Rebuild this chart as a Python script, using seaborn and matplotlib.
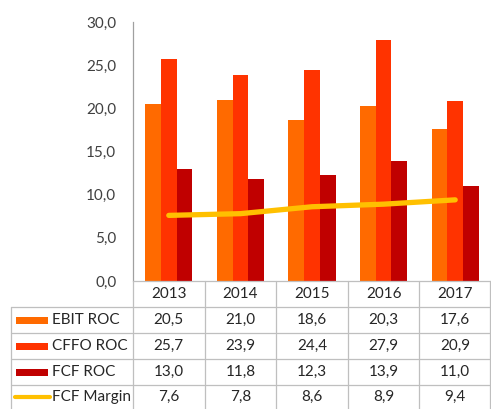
import numpy as np
import pandas as pd
import matplotlib
matplotlib.use("Agg")
import matplotlib.pyplot as plt
from matplotlib.patches import Rectangle
from matplotlib.lines import Line2D
import seaborn as sns

years = ["2013", "2014", "2015", "2016", "2017"]
ebit_roc = [20.5, 21.0, 18.6, 20.3, 17.6]
cffo_roc = [25.7, 23.9, 24.4, 27.9, 20.9]
fcf_roc = [13.0, 11.8, 12.3, 13.9, 11.0]
fcf_margin = [7.6, 7.8, 8.6, 8.9, 9.4]

bar_series = ["EBIT ROC", "CFFO ROC", "FCF ROC"]
line_series = "FCF Margin"
bar_colors = ["#FF6A00", "#FF3300", "#C00000"]
line_color = "#FFC000"
y_ticks = [0, 5, 10, 15, 20, 25, 30]

sns.set_theme(style="white")
plt.rcParams["font.family"] = ["Lato", "DejaVu Sans"]

W, H = 491, 409
fig = plt.figure(figsize=(W / 100, H / 100), dpi=100)

# plot area in pixel coordinates
x0, x1 = 133, 491
y_top, y_zero = 22, 281
ax = fig.add_axes([x0 / W, (H - y_zero) / H, (x1 - x0) / W, (y_zero - y_top) / H])

df = pd.DataFrame({
    "year": np.repeat(years, 3),
    "series": bar_series * len(years),
    "value": np.ravel(np.column_stack([ebit_roc, cffo_roc, fcf_roc])),
})
sns.barplot(data=df, x="year", y="value", hue="series", hue_order=bar_series,
            palette=bar_colors, width=0.66, saturation=1, legend=False,
            linewidth=0, ax=ax)
sns.lineplot(x=np.arange(len(years)), y=fcf_margin, color=line_color,
             linewidth=3.8, ax=ax, solid_capstyle="round")

ax.set_xlim(-0.5, len(years) - 0.5)
ax.set_ylim(0, 30)
ax.set_yticks(y_ticks)
ax.set_yticklabels([f"{t:.1f}".replace(".", ",") for t in y_ticks],
                   fontsize=11, color="#404040")
ax.tick_params(axis="y", length=0, pad=12)
ax.set_xticks([])
ax.set_xlabel("")
ax.set_ylabel("")
for side in ["top", "right", "bottom"]:
    ax.spines[side].set_visible(False)
ax.spines["left"].set_color("#A0A0A0")
ax.spines["left"].set_linewidth(0.9)

# data table below the plot
def fx(px):
    return px / W

def fy(py):
    return 1 - py / H

grid_c = "#BFBFBF"
lw = 0.9
table_left = 11
rows_y = [281, 307, 333, 359, 385, 409]
col_w = (x1 - x0) / len(years)
col_x = [x0 + i * col_w for i in range(len(years) + 1)]

# horizontal lines
fig.add_artist(Line2D([fx(x0), fx(x1)], [fy(rows_y[0])] * 2, color=grid_c, lw=lw))
for yy in rows_y[1:-1]:
    fig.add_artist(Line2D([fx(table_left), fx(x1)], [fy(yy)] * 2, color=grid_c, lw=lw))
# vertical lines
for xx in col_x[:-1]:
    fig.add_artist(Line2D([fx(xx)] * 2, [fy(rows_y[0]), fy(H)], color=grid_c, lw=lw))
fig.add_artist(Line2D([fx(x1 - 1)] * 2, [fy(rows_y[0]), fy(H)], color=grid_c, lw=lw))
fig.add_artist(Line2D([fx(table_left)] * 2, [fy(rows_y[1]), fy(H)], color=grid_c, lw=lw))

txt_kw = dict(fontsize=11, color="#262626", va="center", ha="center")
for i, yr in enumerate(years):
    cx = (col_x[i] + col_x[i + 1]) / 2
    fig.text(fx(cx), fy((rows_y[0] + rows_y[1]) / 2), yr, **txt_kw)

table_rows = [ebit_roc, cffo_roc, fcf_roc, fcf_margin]
names = bar_series + [line_series]
for r, (name, vals) in enumerate(zip(names, table_rows)):
    cy = (rows_y[r + 1] + rows_y[r + 2]) / 2
    for i, v in enumerate(vals):
        cx = (col_x[i] + col_x[i + 1]) / 2
        fig.text(fx(cx), fy(cy), f"{v:.1f}".replace(".", ","), **txt_kw)
    fig.text(fx(52), fy(cy), name, fontsize=11, color="#262626", va="center", ha="left")
    if r < 3:
        fig.add_artist(Rectangle((fx(16), fy(cy + 3.5)), fx(32), 7 / H,
                                 color=bar_colors[r], lw=0))
    else:
        fig.add_artist(Line2D([fx(15), fx(50)], [fy(cy)] * 2, color=line_color,
                              lw=3, solid_capstyle="round"))

fig.savefig("out.png", dpi=100)
